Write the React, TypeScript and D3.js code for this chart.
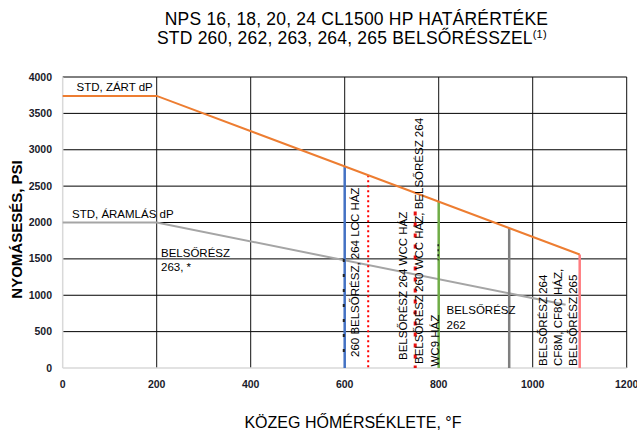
import * as d3 from "d3";

// határgörbék (°F, psi)
const closedTemps = [0, 200, 1100];
const closedDp = [3740, 3740, 1560];
const flowTemps = [0, 200, 1070];
const flowDp = [2000, 2000, 870];

// belsőrész / ház korlátok, függőleges vonalak
const limitTemps = [600, 650, 750, 800, 950, 1100];
const limitTops = [2770, 2650, 2150, 2290, 1920, 1560];
const limitColors = ["#4472C4", "#FF0000", "#E81010", "#70AD47", "#7F7F7F", "#FF7C80"];
const limitDash = [null, "2 3", "4 7", null, null, null];
const limitWidth = [2.5, 2, 3, 2.5, 2.5, 2.5];

const xTicks = [0, 200, 400, 600, 800, 1000, 1200];
const yTicks = [0, 500, 1000, 1500, 2000, 2500, 3000, 3500, 4000];

const W = 637;
const H = 432;
const FONT = "'Liberation Sans', Arial, sans-serif";

export default function App() {
  const x = d3.scaleLinear().domain([0, 1200]).range([62.7, 626.7]);
  const y = d3.scaleLinear().domain([0, 4000]).range([368, 77]);

  const line = d3
    .line<[number, number]>()
    .x((d) => x(d[0]))
    .y((d) => y(d[1]));

  const closedPts = closedTemps.map((t, i) => [t, closedDp[i]] as [number, number]);
  const flowPts = flowTemps.map((t, i) => [t, flowDp[i]] as [number, number]);

  // függőleges felirat (alulról felfelé olvasható)
  const vText = (cx: number, bottom: number, txt: string, key: string) => (
    <text
      key={key}
      transform={`translate(${cx + 4},${bottom}) rotate(-90)`}
      fontSize={11.5}
      fill="#000"
    >
      {txt}
    </text>
  );

  return (
    <svg
      width={W}
      height={H}
      style={{ position: "absolute", left: 0, top: 0, background: "#fff" }}
      fontFamily={FONT}
    >
      {/* cím */}
      <text x={356.5} y={25} textAnchor="middle" fontSize={17.5} letterSpacing={0.2}>
        NPS 16, 18, 20, 24 CL1500 HP HATÁRÉRTÉKE
      </text>
      <text x={157} y={44} fontSize={17.5} letterSpacing={0.2}>
        STD 260, 262, 263, 264, 265 BELSŐRÉSSZEL
        <tspan fontSize={11} dy={-6}>(1)</tspan>
      </text>

      {/* rács */}
      {yTicks.filter((v) => v > 0).map((v) => (
        <line key={"h" + v} x1={x(0)} x2={x(1200)} y1={y(v)} y2={y(v)} stroke="#000" strokeWidth={1} />
      ))}
      {xTicks.filter((v) => v > 0).map((v) => (
        <line key={"v" + v} x1={x(v)} x2={x(v)} y1={y(4000)} y2={y(0)} stroke="#111" strokeWidth={1} />
      ))}
      <line x1={x(0)} x2={x(0)} y1={y(4000)} y2={y(0)} stroke="#d9d9d9" strokeWidth={1.5} />
      <line x1={x(0)} x2={x(1200)} y1={y(0)} y2={y(0)} stroke="#d9d9d9" strokeWidth={1.5} />

      {/* tengelyfeliratok */}
      {yTicks.map((v) => (
        <text key={"yl" + v} x={52} y={y(v) + 3.5} textAnchor="end" fontSize={10.5} fontWeight="bold" fill="#1a1a2a">
          {v}
        </text>
      ))}
      {xTicks.map((v) => (
        <text key={"xl" + v} x={x(v)} y={388} textAnchor="middle" fontSize={10.5} fontWeight="bold" fill="#1a1a2a">
          {v}
        </text>
      ))}

      {/* áramlási görbe */}
      <path d={line(flowPts) ?? ""} fill="none" stroke="#A5A5A5" strokeWidth={2} />

      {/* határvonalak */}
      {limitTemps.map((t, i) => (
        <line
          key={"lim" + t}
          x1={x(t)}
          x2={x(t)}
          y1={y(limitTops[i])}
          y2={y(0)}
          stroke={limitColors[i]}
          strokeWidth={limitWidth[i]}
          strokeDasharray={limitDash[i] ?? undefined}
        />
      ))}
      {/* fekete szaggatott darabok */}
      <line x1={x(598)} x2={x(598)} y1={y(1500)} y2={y(100)} stroke="#222" strokeWidth={2} strokeDasharray="3 12" />
      <line x1={x(799)} x2={x(799)} y1={y(1700)} y2={y(1480)} stroke="#222" strokeWidth={1.5} strokeDasharray="2 3" />

      {/* zárt görbe */}
      <path d={line(closedPts) ?? ""} fill="none" stroke="#ED7D31" strokeWidth={2} />

      {/* feliratok */}
      <text x={76.5} y={90.5} fontSize={11.5}>STD, ZÁRT dP</text>
      <text x={72} y={217.5} fontSize={11.5}>STD, ÁRAMLÁS dP</text>
      <text x={161} y={256.5} fontSize={11.5}>BELSŐRÉSZ</text>
      <text x={161} y={270.5} fontSize={11.5}>263, *</text>
      <text x={446.5} y={314} fontSize={11.5}>BELSŐRÉSZ</text>
      <text x={446.5} y={329} fontSize={11.5}>262</text>

      {vText(355, 357, "260 BELSŐRÉSZ, 264 LCC HÁZ", "a1")}
      {vText(403.3, 360, "BELSŐRÉSZ 264 WCC HÁZ", "b1")}
      {vText(419.3, 364, "BELSŐRÉSZ 260 WCC HÁZ, BELSŐRÉSZ 264", "b2")}
      {vText(435, 366.5, "WC9 HÁZ", "b3")}
      {vText(543, 366, "BELSŐRÉSZ 264", "c1")}
      {vText(558.3, 366, "CF8M, CF8C HÁZ,", "c2")}
      {vText(573.3, 366, "BELSŐRÉSZ 265", "c3")}

      {/* tengelycímek */}
      <text x={353} y={428} textAnchor="middle" fontSize={16}>
        KÖZEG HŐMÉRSÉKLETE, °F
      </text>
      <text
        transform={`translate(21.5,229.5) rotate(-90)`}
        textAnchor="middle"
        fontSize={15}
        fontWeight="bold"
      >
        NYOMÁSESÉS, PSI
      </text>
    </svg>
  );
}
